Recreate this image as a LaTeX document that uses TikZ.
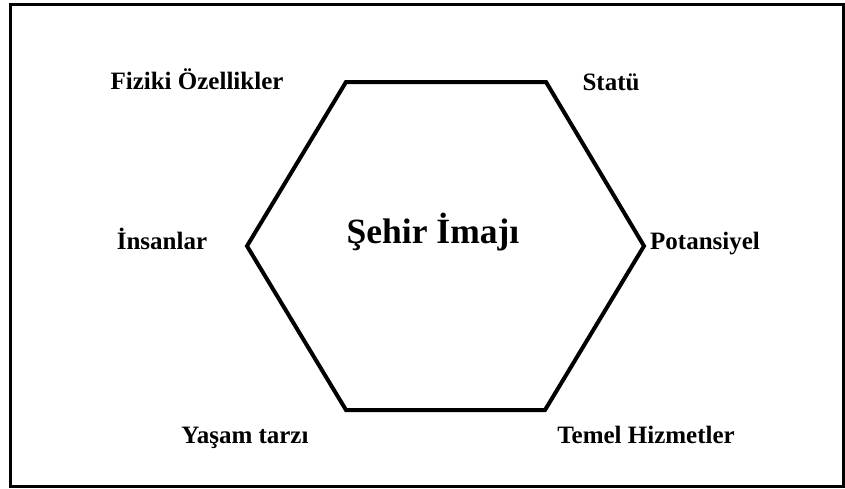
\documentclass[tikz,border=0pt]{standalone}
\usepackage{fontspec}
\setmainfont{Liberation Serif}
\usepackage{tikz}
\usetikzlibrary{positioning}

\begin{document}
\begin{tikzpicture}[x=1pt,y=-1pt,
    lbl/.style={font=\fontsize{25}{29}\selectfont\bfseries,anchor=base,inner sep=0pt},
    hexline/.style={line width=4pt,line join=miter}]
  \useasboundingbox (0,0) rectangle (845,488);
  % outer frame
  \draw[line width=3pt] (10,4) rectangle (843.5,486);
  % hexagon corners
  \coordinate (tl) at (346,82);
  \coordinate (tr) at (546,82);
  \coordinate (rt) at (644,246);
  \coordinate (br) at (545,410);
  \coordinate (bl) at (346,410);
  \coordinate (lt) at (247,246);
  \draw[hexline] (tl) -- (tr) -- (rt) -- (br) -- (bl) -- (lt) -- cycle;
  \node[font=\fontsize{35.5}{40}\selectfont\bfseries,anchor=base,inner sep=0pt] (img) at (433,243) {Şehir İmajı};
  % labels round the hexagon
  \node[lbl] (fiz) at (197,89) {Fiziki Özellikler};
  \node[lbl] (sta) at (611,90) {Statü};
  \node[lbl] (ins) at (162,249) {İnsanlar};
  \node[lbl] (pot) at (705,249) {Potansiyel};
  \node[lbl] (yas) at (245,443) {Yaşam tarzı};
  \node[lbl] (tem) at (646,443) {Temel Hizmetler};
\end{tikzpicture}
\end{document}
